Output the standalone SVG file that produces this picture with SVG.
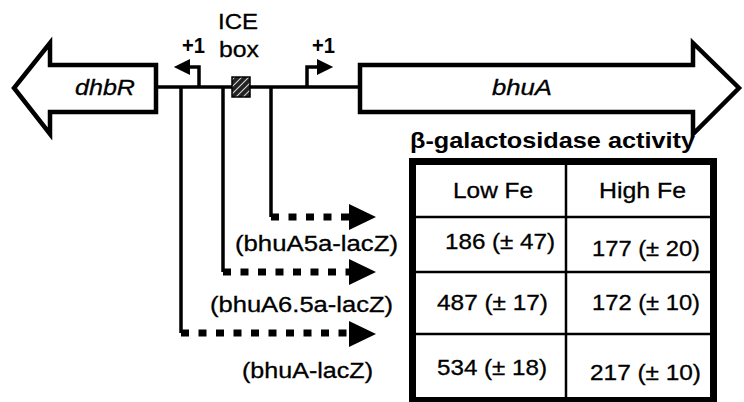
<svg xmlns="http://www.w3.org/2000/svg" xmlns:xlink="http://www.w3.org/1999/xlink" width="744" height="402" viewBox="0 0 744 402">
<style>
.t{font-family:"Liberation Sans",Arial,sans-serif;fill:#000;font-size:21.5px;stroke:#000;stroke-width:0.3}
.b{font-weight:bold;stroke-width:0}
.i{font-style:italic}
.ln{stroke:#000;stroke-width:3.5;fill:none}
.dash{stroke:#000;stroke-width:7;stroke-dasharray:8 9.5;fill:none}
.gene{fill:#fff;stroke:#000;stroke-width:4.5;stroke-linejoin:miter;stroke-miterlimit:10}
.grid{stroke:#000;stroke-width:2.5;fill:none}
</style>
<defs>
<pattern id="hatch" width="5" height="5" patternUnits="userSpaceOnUse" patternTransform="rotate(45)">
<rect width="5" height="5" fill="#222"/>
<line x1="0" y1="0" x2="0" y2="5" stroke="#fff" stroke-width="1.6"/>
</pattern>
<polygon id="ah" points="0,-13 27,0 0,13" fill="#000"/>
</defs>
<rect width="744" height="402" fill="#fff"/>

<g id="dhbR">
<path class="gene" d="M156,65 H50 V43 L14,88 L50,134 V112 H156 Z"/>
<text class="t i" x="75" y="95" textLength="60" lengthAdjust="spacingAndGlyphs">dhbR</text>
</g>

<g id="bhuA">
<path class="gene" d="M360,65 H693 V43 L739,88 L693,134 V112 H360 Z"/>
<text class="t i" x="492" y="95" textLength="60" lengthAdjust="spacingAndGlyphs">bhuA</text>
</g>

<g id="connectors">
<line class="ln" x1="156" y1="87" x2="360" y2="87"/>
<path class="ln" d="M199,87 V67 H188"/>
<use xlink:href="#ah" transform="translate(190,67) scale(-0.6,0.62)"/>
<path class="ln" d="M307,87 V67 H320"/>
<use xlink:href="#ah" transform="translate(317,67) scale(0.6,0.62)"/>
<path class="ln" d="M271,87 V217"/>
<path class="ln" d="M223,87 V272"/>
<path class="ln" d="M181,87 V333"/>
<path class="dash" d="M271,217 H350"/>
<path class="dash" d="M223,272 H350"/>
<path class="dash" d="M181,333 H350"/>
<use xlink:href="#ah" transform="translate(349,217)"/>
<use xlink:href="#ah" transform="translate(349,272)"/>
<use xlink:href="#ah" transform="translate(349,334)"/>
</g>

<g id="ice-box">
<rect x="232" y="77" width="18" height="20" fill="url(#hatch)" stroke="#000" stroke-width="1.5"/>
<text class="t" x="218" y="29" textLength="40" lengthAdjust="spacingAndGlyphs">ICE</text>
<text class="t" x="219" y="57" textLength="40" lengthAdjust="spacingAndGlyphs">box</text>
</g>

<g id="promoter-labels">
<text class="t b" x="182" y="53" font-size="20" textLength="23" lengthAdjust="spacingAndGlyphs">+1</text>
<text class="t b" x="312" y="53" font-size="20" textLength="23" lengthAdjust="spacingAndGlyphs">+1</text>
</g>

<g id="construct-labels">
<text class="t" x="235" y="251" textLength="163" lengthAdjust="spacingAndGlyphs">(bhuA5a-lacZ)</text>
<text class="t" x="210" y="312" textLength="183" lengthAdjust="spacingAndGlyphs">(bhuA6.5a-lacZ)</text>
<text class="t" x="242" y="378" textLength="131" lengthAdjust="spacingAndGlyphs">(bhuA-lacZ)</text>
</g>

<g id="table">
<text class="t b" x="410" y="148" font-size="20" textLength="285" lengthAdjust="spacingAndGlyphs">β-galactosidase activity</text>
<rect x="412.5" y="161.5" width="301" height="239" fill="none" stroke="#000" stroke-width="7"/>
<line class="grid" x1="566" y1="165" x2="566" y2="397"/>
<line class="grid" x1="416" y1="217" x2="710" y2="217"/>
<line class="grid" x1="416" y1="272" x2="710" y2="272"/>
<line class="grid" x1="416" y1="334" x2="710" y2="334"/>
<text class="t" x="453" y="198" textLength="80" lengthAdjust="spacingAndGlyphs">Low Fe</text>
<text class="t" x="599" y="198" textLength="87" lengthAdjust="spacingAndGlyphs">High Fe</text>
<text class="t" x="445" y="249" textLength="110" lengthAdjust="spacingAndGlyphs">186 (± 47)</text>
<text class="t" x="592" y="256" textLength="108" lengthAdjust="spacingAndGlyphs">177 (± 20)</text>
<text class="t" x="437" y="310" textLength="111" lengthAdjust="spacingAndGlyphs">487 (± 17)</text>
<text class="t" x="592" y="310" textLength="108" lengthAdjust="spacingAndGlyphs">172 (± 10)</text>
<text class="t" x="437" y="375" textLength="110" lengthAdjust="spacingAndGlyphs">534 (± 18)</text>
<text class="t" x="590" y="380" textLength="111" lengthAdjust="spacingAndGlyphs">217 (± 10)</text>
</g>
</svg>
